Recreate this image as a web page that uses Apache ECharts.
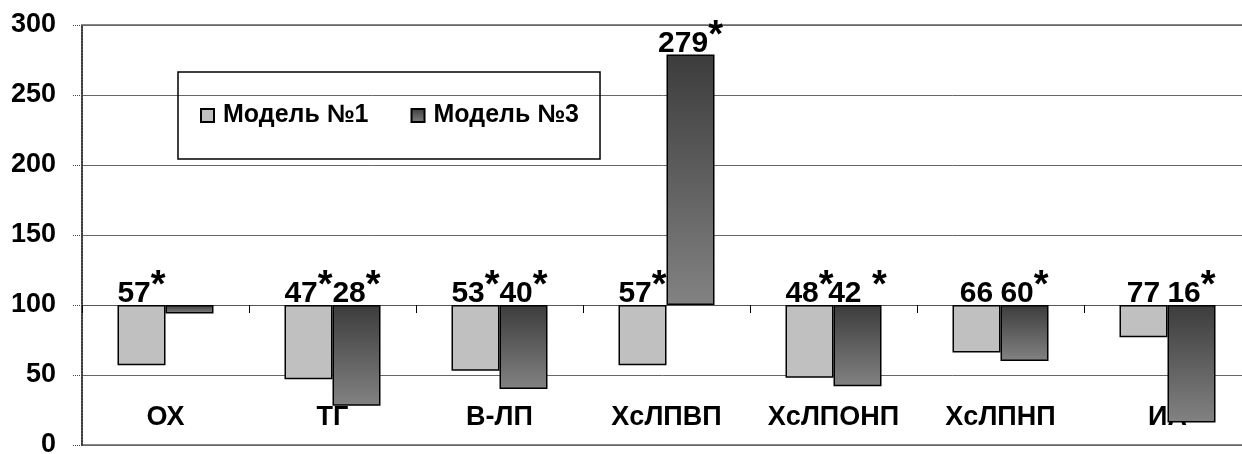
<!DOCTYPE html>
<html>
<head>
<meta charset="utf-8">
<script src="https://cdn.jsdelivr.net/npm/echarts@6/dist/echarts.min.js"></script>
<style>html,body{margin:0;padding:0;background:#fff}#c{width:1242px;height:454px}</style>
</head>
<body>
<div id="c"></div>
<script>
const categories = ['ОХ', 'ТГ', 'В-ЛП', 'ХсЛПВП', 'ХсЛПОНП', 'ХсЛПНП', 'ИА'];
const model1 = [57, 47, 53, 57, 48, 66, 77];
const model3 = [94, 28, 40, 279, 42, 60, 16];
// label suffixes ('*' = significant); null = no label shown
const model1Mark = ['*', '*', '*', '*', '*', '', ''];
const model3Mark = [null, '*', '*', '*', ' *', '*', '*'];
const seriesNames = ['Модель №1', 'Модель №3'];
const yTicks = [0, 50, 100, 150, 200, 250, 300];
const BASE = 100;

const FONT = '"Liberation Sans", Arial, sans-serif';
const chart = echarts.init(document.getElementById('c'));

function mkLabel(vals, marks) {
  return {
    show: true,
    position: 'top',
    distance: -3,
    formatter: p => {
      const m = marks[p.dataIndex];
      if (m === null) return '';
      const v = vals[p.dataIndex];
      return m ? '{v|' + v + '}{s|' + m + '}' : '{v|' + v + '}';
    },
    rich: {
      v: { fontFamily: FONT, fontWeight: 'bold', fontSize: 30, color: '#000', lineHeight: 28 },
      s: { fontFamily: FONT, fontWeight: 'bold', fontSize: 38, color: '#000', lineHeight: 28, padding: [0, 0, 14, 0] }
    }
  };
}

const option = {
  animation: false,
  backgroundColor: '#fff',
  grid: { left: 82, top: 25, width: 1169, height: 420, containLabel: false, outerBoundsMode: 'none', show: true, borderColor: '#888', borderWidth: 2, backgroundColor: 'transparent' },
  legend: {
    left: 178, top: 72,
    orient: 'horizontal',
    padding: [31, 21, 31, 22],
    borderColor: '#000', borderWidth: 1.5,
    itemWidth: 13, itemHeight: 13, itemGap: 42,
    icon: 'rect',
    textStyle: { fontFamily: FONT, fontWeight: 'bold', fontSize: 25, color: '#000', padding: [0, 0, 0, 4] },
    data: seriesNames
  },
  xAxis: {
    type: 'category',
    data: categories,
    axisLine: { onZero: true, lineStyle: { color: '#555', width: 1 } },
    axisTick: { show: true, length: 8, lineStyle: { color: '#000', width: 1 } },
    axisLabel: { interval: 0, hideOverlap: false, margin: -41, fontFamily: FONT, fontWeight: 'bold', fontSize: 27, color: '#000' },
    z: 0
  },
  yAxis: {
    type: 'value',
    min: yTicks[0] - BASE, max: yTicks[yTicks.length - 1] - BASE, interval: yTicks[1] - yTicks[0],
    axisLine: { show: true, lineStyle: { color: '#222', type: 'dotted', width: 1.5 } },
    axisTick: { show: true, length: 10, lineStyle: { color: '#444', type: 'dotted' } },
    axisLabel: { margin: 26, fontFamily: FONT, fontWeight: 'bold', fontSize: 27, color: '#000', formatter: v => String(v + BASE) },
    splitLine: { show: true, lineStyle: { color: '#666', width: 1 } }
  },
  series: [
    {
      name: seriesNames[0], type: 'bar',
      data: model1.map(v => v - BASE),
      barWidth: 48, barGap: '0%',
      itemStyle: { color: '#c0c0c0', borderColor: '#000', borderWidth: 1.5 },
      label: mkLabel(model1, model1Mark)
    },
    {
      name: seriesNames[1], type: 'bar',
      data: model3.map(v => v - BASE),
      barWidth: 48, barGap: '0%',
      itemStyle: {
        color: new echarts.graphic.LinearGradient(0, 0, 0, 1, [
          { offset: 0, color: '#3c3c3c' }, { offset: 1, color: '#828282' }
        ]),
        borderColor: '#000', borderWidth: 1.5
      },
      label: mkLabel(model3, model3Mark)
    }
  ]
};
chart.setOption(option);
</script>
</body>
</html>
